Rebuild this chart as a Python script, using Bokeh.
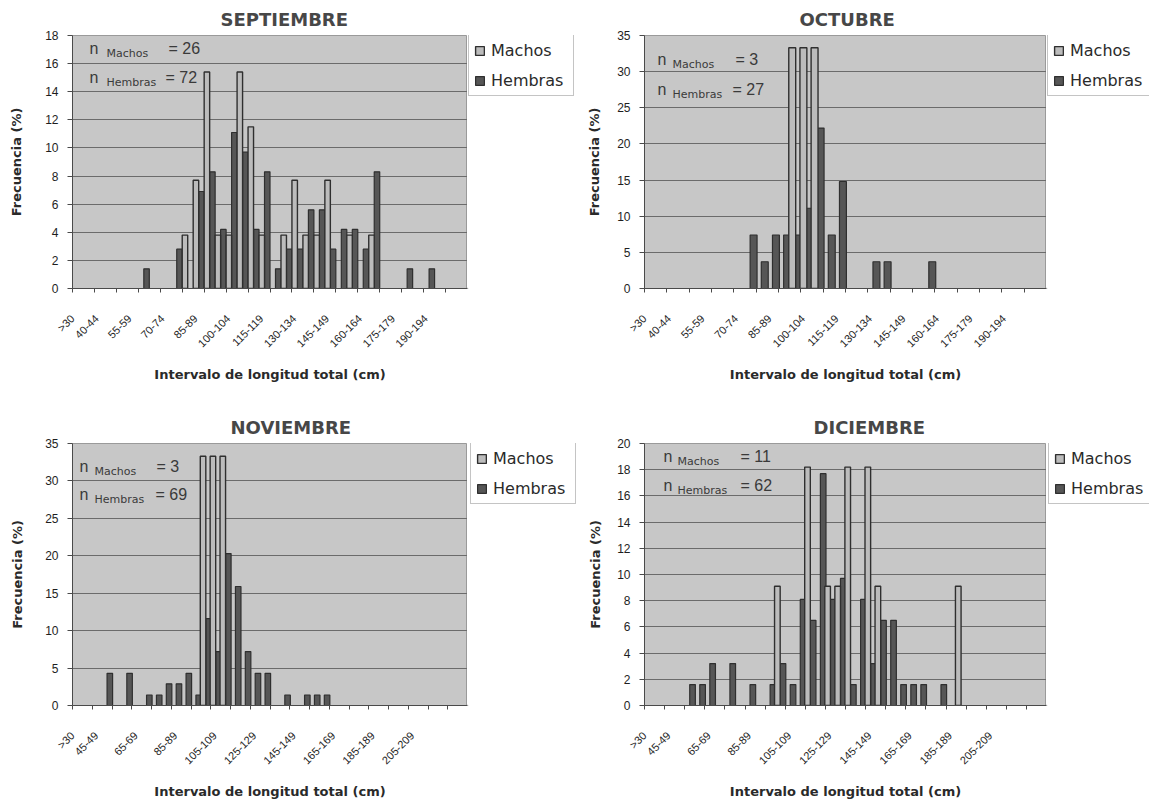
import math
from bokeh.plotting import figure
from bokeh.models import Range1d, FixedTicker, Label, Legend, LegendItem, ColumnDataSource, Title
from bokeh.layouts import row, column
from bokeh.embed import file_html
from bokeh.resources import INLINE

# ---------------- data ----------------
cats_36 = [">30"] + [f"{a}-{a + 4}" for a in range(30, 205, 5)]
cats_40 = [">30"] + [f"{a}-{a + 4}" for a in range(30, 225, 5)]

sep_ticks = [">30", "40-44", "55-59", "70-74", "85-89", "100-104", "115-119",
             "130-134", "145-149", "160-164", "175-179", "190-194"]
nov_ticks = [">30", "45-49", "65-69", "85-89", "105-109", "125-129",
             "145-149", "165-169", "185-189", "205-209"]

sep_machos = [0, 0, 0, 0, 0, 0, 0, 0, 0, 0,
              3.8, 7.7, 15.4, 3.8, 3.8, 15.4, 11.5, 3.8, 0, 3.8,
              7.7, 3.8, 3.8, 7.7, 0, 3.8, 0, 3.8, 0, 0,
              0, 0, 0, 0, 0, 0]
sep_hembras = [0, 0, 0, 0, 0, 0, 1.4, 0, 0, 2.8,
               0, 6.9, 8.3, 4.2, 11.1, 9.7, 4.2, 8.3, 1.4, 2.8,
               2.8, 5.6, 5.6, 2.8, 4.2, 4.2, 2.8, 8.3, 0, 0,
               1.4, 0, 1.4, 0, 0, 0]

oct_machos = [0, 0, 0, 0, 0, 0, 0, 0, 0, 0,
              0, 0, 0, 33.3, 33.3, 33.3, 0, 0, 0, 0,
              0, 0, 0, 0, 0, 0, 0, 0, 0, 0,
              0, 0, 0, 0, 0, 0]
oct_hembras = [0, 0, 0, 0, 0, 0, 0, 0, 0, 7.4,
               3.7, 7.4, 7.4, 7.4, 11.1, 22.2, 7.4, 14.8, 0, 0,
               3.7, 3.7, 0, 0, 0, 3.7, 0, 0, 0, 0,
               0, 0, 0, 0, 0, 0]

nov_machos = [0, 0, 0, 0, 0, 0, 0, 0, 0, 0,
              0, 0, 0, 33.3, 33.3, 33.3, 0, 0, 0, 0,
              0, 0, 0, 0, 0, 0, 0, 0, 0, 0,
              0, 0, 0, 0, 0, 0, 0, 0, 0, 0]
nov_hembras = [0, 0, 0, 4.3, 0, 4.3, 0, 1.4, 1.4, 2.9,
               2.9, 4.3, 1.4, 11.6, 7.2, 20.3, 15.9, 7.2, 4.3, 4.3,
               0, 1.4, 0, 1.4, 1.4, 1.4, 0, 0, 0, 0,
               0, 0, 0, 0, 0, 0, 0, 0, 0, 0]

dec_machos = [0, 0, 0, 0, 0, 0, 0, 0, 0, 0,
              0, 0, 0, 9.1, 0, 0, 18.2, 0, 9.1, 9.1,
              18.2, 0, 18.2, 9.1, 0, 0, 0, 0, 0, 0,
              0, 9.1, 0, 0, 0, 0, 0, 0, 0, 0]
dec_hembras = [0, 0, 0, 0, 1.6, 1.6, 3.2, 0, 3.2, 0,
               1.6, 0, 1.6, 3.2, 1.6, 8.1, 6.5, 17.7, 8.1, 9.7,
               1.6, 8.1, 3.2, 6.5, 6.5, 1.6, 1.6, 1.6, 0, 1.6,
               0, 0, 0, 0, 0, 0, 0, 0, 0, 0]

sep_n = (26, 72)
oct_n = (3, 27)
nov_n = (3, 69)
dec_n = (11, 62)

# ---------------- style ----------------
BG_PLOT = "#c7c7c7"
GRID = "#6b6b6b"
MACHOS_FILL = "#bcbcbc"
HEMB_FILL = "#565656"
BAR_LINE = "#2f2f2f"
TEXT = "#1e1e1e"
NTEXT = "#3a3a3a"
SANS = "Liberation Sans"
DJ = "DejaVu Sans"


def panel(title, cats, machos, hembras, tick_labels, ymax, ystep, n_pair, g):
    ncat = len(cats)
    fw, fh = g["fw"], g["fh"]
    bb = g["H"] - g["bt"] - fh
    p = figure(width=g["W"], height=g["H"], x_range=Range1d(0, ncat), y_range=Range1d(0, ymax),
               output_backend="svg", toolbar_location=None, title=None,
               min_border_left=g["bl"], min_border_right=g["W"] - g["bl"] - fw,
               min_border_top=g["bt"], min_border_bottom=bb)
    p.background_fill_color = BG_PLOT
    p.border_fill_color = "white"
    p.outline_line_color = "#9a9a9a"

    p.add_layout(Title(text=title, align="left", offset=g["toff"], standoff=12,
                       text_font=DJ, text_font_style="bold", text_font_size="18px",
                       text_color="#474747"), "above")

    d, w = g["d"], g["w"]
    src_h = ColumnDataSource(dict(x=[i + 0.5 + d for i, v in enumerate(hembras) if v > 0],
                                  top=[v for v in hembras if v > 0]))
    src_m = ColumnDataSource(dict(x=[i + 0.5 - d for i, v in enumerate(machos) if v > 0],
                                  top=[v for v in machos if v > 0]))
    p.vbar(x="x", top="top", bottom=0, width=w, source=src_h,
           fill_color=HEMB_FILL, line_color=BAR_LINE, line_width=1.2)
    p.vbar(x="x", top="top", bottom=0, width=w, source=src_m,
           fill_color=MACHOS_FILL, line_color=BAR_LINE, line_width=1.4)

    # axes
    yt = list(range(0, ymax + 1, ystep))
    p.yaxis.ticker = FixedTicker(ticks=yt)
    p.ygrid.ticker = FixedTicker(ticks=yt)
    p.ygrid.grid_line_color = GRID
    p.ygrid.grid_line_width = 1.2
    p.xgrid.visible = False

    pos = [round(max(cats.index(t) + 0.5 - g["shift"], 0.0), 3) for t in tick_labels]
    p.xaxis.ticker = FixedTicker(ticks=pos, minor_ticks=list(range(0, ncat + 1, 2)))
    p.xaxis.major_label_overrides = {pp: t for pp, t in zip(pos, tick_labels)}
    p.xaxis.major_label_orientation = math.pi / 4
    p.xaxis.major_tick_out = 0
    p.xaxis.major_tick_in = 0
    p.xaxis.minor_tick_out = 4
    p.xaxis.minor_tick_in = 0
    p.xaxis.major_label_standoff = 24
    p.xaxis.axis_label = "Intervalo de longitud total (cm)"
    p.xaxis.axis_label_standoff = 10

    p.yaxis.minor_tick_out = 0
    p.yaxis.minor_tick_in = 0
    p.yaxis.major_tick_out = 5
    p.yaxis.major_tick_in = 0
    p.yaxis.major_label_standoff = 9
    p.yaxis.axis_label = "Frecuencia (%)"
    p.yaxis.axis_label_standoff = g["ylab"]

    for ax in (p.xaxis, p.yaxis):
        ax.axis_line_color = "#4a4a4a"
        ax.major_tick_line_color = "#4a4a4a"
        ax.minor_tick_line_color = "#4a4a4a"
        ax.major_label_text_font = SANS
        ax.major_label_text_color = TEXT
        ax.axis_label_text_font = DJ
        ax.axis_label_text_font_style = "bold"
        ax.axis_label_text_font_size = "13px"
        ax.axis_label_text_color = "#2a2a2a"
    p.xaxis.major_label_text_font_size = "11px"
    p.yaxis.major_label_text_font_size = "12px"

    # n annotations
    nx, ny, sx, vx, line_gap = g["nx"], g["ny"], g["sx"], g["vx"], g["lg"]
    for k, (sub, nval) in enumerate([("Machos", n_pair[0]), ("Hembras", n_pair[1])]):
        yy = fh - (ny + k * line_gap)
        p.add_layout(Label(x=nx, y=yy, x_units="screen", y_units="screen", text="n",
                           text_align="left", text_baseline="middle", level="underlay",
                           text_font=SANS, text_font_size="16px", text_color=NTEXT))
        p.add_layout(Label(x=sx, y=yy - 5, x_units="screen", y_units="screen", text=sub,
                           text_align="left", text_baseline="middle", level="underlay",
                           text_font=DJ, text_font_size="11px", text_color=NTEXT))
        p.add_layout(Label(x=vx[k], y=yy, x_units="screen", y_units="screen", text=f"= {nval}",
                           text_align="left", text_baseline="middle", level="underlay",
                           text_font=SANS, text_font_size="16px", text_color=NTEXT))

    # legend lives in a narrow companion figure to the right of the plot area
    lf = figure(width=g["LW"], height=g["H"], x_range=Range1d(0, 1), y_range=Range1d(0, 1),
                output_backend="svg", toolbar_location=None, title=None,
                x_axis_location=None, y_axis_location=None,
                min_border_left=0, min_border_right=0, min_border_top=g["bt"], min_border_bottom=bb)
    lf.outline_line_color = None
    lf.background_fill_color = "white"
    lf.border_fill_color = "white"
    lf.xgrid.visible = False
    lf.ygrid.visible = False
    # legend swatches only (their single bar sits outside the visible range)
    lm = lf.vbar(x=[-5.0], top=[-5.0], bottom=-6.0, width=0.5,
                 fill_color=MACHOS_FILL, line_color=BAR_LINE, line_width=1.4)
    lh = lf.vbar(x=[-5.0], top=[-5.0], bottom=-6.0, width=0.5,
                 fill_color=HEMB_FILL, line_color=BAR_LINE, line_width=1.2)
    legend = Legend(items=[LegendItem(label="Machos", renderers=[lm]),
                           LegendItem(label="Hembras", renderers=[lh])],
                    location=(g["lx"], fh - 61), margin=0, padding=5, spacing=10,
                    label_height=20, label_width=g["lw"], glyph_width=11, glyph_height=11,
                    label_standoff=6, border_line_color="#8a8a8a", border_line_width=1,
                    background_fill_color="white", background_fill_alpha=1.0,
                    label_text_font=DJ, label_text_font_size="16px", label_text_color="#2a2a2a")
    lf.add_layout(legend)
    return p, lf


# column 1: canvas x 0..467 (plot area 72..467) + legend strip 467..580
# column 2: canvas 580..1046 (plot area 644..1046) + legend strip 1046..1149
# row 1: canvas y 0..400, frame 35..288 ; row 2: canvas 400..802, frame 443..705
g_sep = dict(W=467, LW=113, H=400, bl=72, bt=35, fw=395, fh=253, d=0.25, w=0.5, shift=1.3,
             ylab=18, toff=148, lw=77, lx=1,
             nx=17, ny=13, sx=34, vx=(96, 93), lg=29)
g_oct = dict(W=466, LW=103, H=400, bl=64, bt=35, fw=402, fh=253, d=0.27, w=0.62, shift=1.3,
             ylab=12, toff=155, lw=76, lx=1,
             nx=13, ny=24, sx=28, vx=(91, 88), lg=30)
g_nov = dict(W=467, LW=113, H=402, bl=72, bt=43, fw=395, fh=262, d=0.28, w=0.56, shift=2.1,
             ylab=17, toff=158, lw=77, lx=3,
             nx=7, ny=23, sx=22, vx=(84, 83), lg=28)
g_dec = dict(W=466, LW=103, H=402, bl=64, bt=43, fw=402, fh=262, d=0.28, w=0.56, shift=2.1,
             ylab=11, toff=169, lw=77, lx=2,
             nx=19, ny=13, sx=33, vx=(96, 96), lg=29)

p1, l1 = panel("SEPTIEMBRE", cats_36, sep_machos, sep_hembras, sep_ticks, 18, 2, sep_n, g_sep)
p2, l2 = panel("OCTUBRE", cats_36, oct_machos, oct_hembras, sep_ticks, 35, 5, oct_n, g_oct)
p3, l3 = panel("NOVIEMBRE", cats_40, nov_machos, nov_hembras, nov_ticks, 35, 5, nov_n, g_nov)
p4, l4 = panel("DICIEMBRE", cats_40, dec_machos, dec_hembras, nov_ticks, 20, 2, dec_n, g_dec)

layout = column(row(p1, l1, p2, l2), row(p3, l3, p4, l4))
open("out.html", "w").write(file_html(layout, INLINE))
